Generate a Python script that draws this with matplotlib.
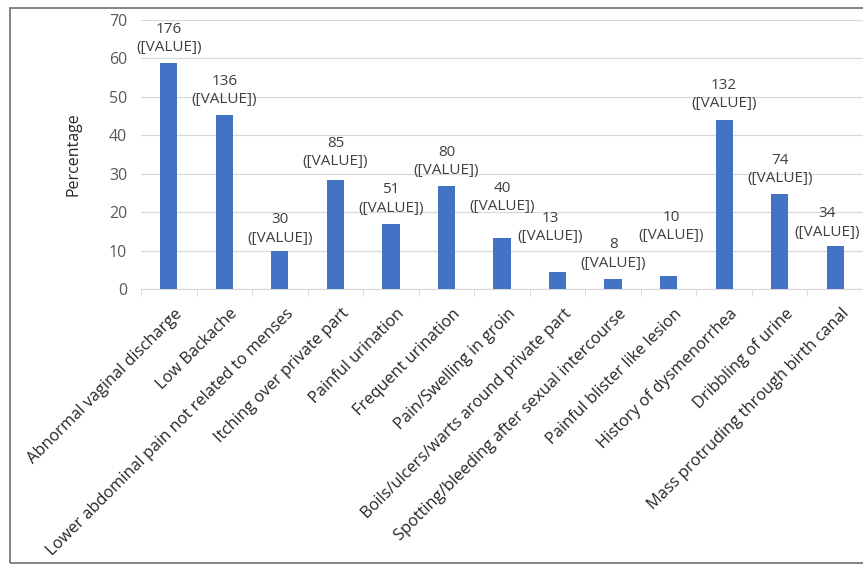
import matplotlib.pyplot as plt
from matplotlib.patches import Rectangle

plt.rcParams['font.family'] = ['Open Sans', 'DejaVu Sans']

categories = [
    'Abnormal vaginal discharge',
    'Low Backache',
    'Lower abdominal pain not related to menses',
    'Itching over private part',
    'Painful urination',
    'Frequent urination',
    'Pain/Swelling in groin',
    'Boils/ulcers/warts around private part',
    'Spotting/bleeding after sexual intercourse',
    'Painful blister like lesion',
    'History of dysmenorrhea',
    'Dribbling of urine',
    'Mass protruding through birth canal',
]
counts = [176, 136, 30, 85, 51, 80, 40, 13, 8, 10, 132, 74, 34]
percentages = [58.7, 45.3, 10.0, 28.3, 17.0, 26.7, 13.3, 4.3, 2.7, 3.3, 44.0, 24.7, 11.3]
yticks = [0, 10, 20, 30, 40, 50, 60, 70]

# label nudges (pixels) so the small-bar labels don't collide, as in the original
label_dx = [0, 0, 0, 0, 0, 0, 0, -7, 0, 3, 0, 0, -8]
label_dy = [0, 0, -3, 3, 0, 0, 16, 20, 0, 25, 1, 0, -2]

fig = plt.figure(figsize=(8.63, 5.67), dpi=100)
ax = fig.add_axes([141 / 863, 1 - 289 / 567, 1 - 141 / 863, (289 - 20) / 567])

x = range(len(categories))
bars = ax.bar(x, percentages, width=0.31, color='#4472C4', zorder=3)

for xi, p, c in zip(x, percentages, counts):
    ax.annotate(f'{c}\n([VALUE])', (xi, p),
                xytext=(label_dx[xi], 8 + label_dy[xi]), textcoords='offset pixels',
                ha='center', va='bottom', fontsize=11, color='#404040',
                linespacing=1.3, annotation_clip=False)

ax.set_xlim(-0.5, len(categories) - 0.5)
ax.set_ylim(0, 70)
ax.set_yticks(yticks)
ax.yaxis.grid(True, color='#d9d9d9', linewidth=0.9, zorder=0)
ax.tick_params(axis='y', length=0, labelsize=11.5, labelcolor='#595959', pad=10)

ax.set_xticks([i - 0.5 for i in range(len(categories) + 1)], minor=True)
ax.set_xticks([i + 0.1 for i in x])
ax.set_xticklabels(categories, rotation=45, ha='right', rotation_mode='anchor',
                   fontsize=11.8, color='#262626')
ax.tick_params(axis='x', which='major', length=0, pad=12)
ax.tick_params(axis='x', which='minor', length=5, color='#d9d9d9')

for s in ['top', 'right', 'left']:
    ax.spines[s].set_visible(False)
ax.spines['bottom'].set_color('#d9d9d9')

ax.set_ylabel('Percentage', fontsize=11.5, color='#262626', labelpad=20)

fig.patches.append(Rectangle((10 / 863, 4 / 567), 1.0, 1 - 12 / 567,
                             transform=fig.transFigure, fill=False,
                             edgecolor='#6e6e6e', linewidth=1.2))

fig.savefig('out.png', dpi=100)
